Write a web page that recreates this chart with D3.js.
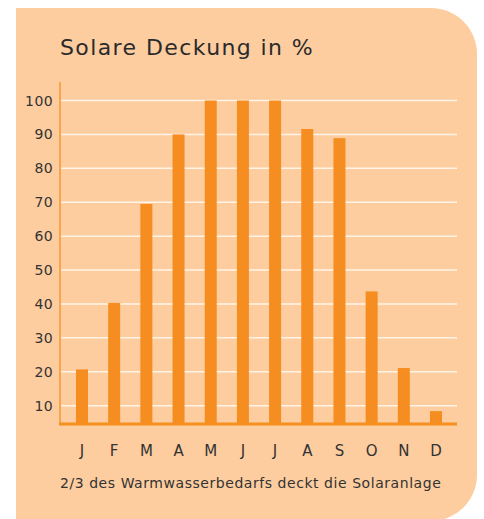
<!DOCTYPE html>
<html><head><meta charset="utf-8">
<script src="https://cdn.jsdelivr.net/npm/d3@7"></script>
<style>html,body{margin:0;padding:0;background:#fff;}svg{display:block;}</style>
</head><body>
<script>
const months = ["J","F","M","A","M","J","J","A","S","O","N","D"];
const values = [20.7, 40.3, 69.5, 90, 100, 100, 100, 91.6, 88.9, 43.7, 21.1, 8.4];
const yTicks = [10,20,30,40,50,60,70,80,90,100];
const title = "Solare Deckung in %";
const footnote = "2/3 des Warmwasserbedarfs deckt die Solaranlage";

const W = 484, H = 519;
const svg = d3.select("body").append("svg").attr("width", W).attr("height", H);
const font = "'DejaVu Sans', sans-serif";
const textColor = "#333333";

// panel
const px0 = 16, py0 = 8, px1 = 477, py1 = 521, r = 46;
svg.append("path")
  .attr("d", `M${px0},${py0} H${px1-r} A${r},${r} 0 0 1 ${px1},${py0+r} V${py1-r} A${r},${r} 0 0 1 ${px1-r},${py1} H${px0} Z`)
  .attr("fill", "#FDCD9F");

const idx = d3.range(months.length);
const x = d3.scalePoint().domain(idx).range([82, 436]);
const y = d3.scaleLinear().domain([4.6, 100]).range([424, 100.5]);
const barW = 12;

// gridlines
svg.append("g").selectAll("line").data(yTicks).join("line")
  .attr("x1", 61).attr("x2", 457)
  .attr("y1", d => y(d)).attr("y2", d => y(d))
  .attr("stroke", "#FFF4E8").attr("stroke-width", 1.5);

// y labels
svg.append("g").selectAll("text").data(yTicks).join("text")
  .attr("x", 53).attr("y", d => y(d)).attr("dy", "0.36em")
  .attr("text-anchor", "end")
  .attr("font-family", font).attr("font-size", 14).attr("letter-spacing", 0.4)
  .attr("fill", textColor).text(d => d);

// bars
svg.append("g").selectAll("rect").data(values).join("rect")
  .attr("x", (d, i) => x(i) - barW / 2)
  .attr("width", barW)
  .attr("y", d => y(d))
  .attr("height", d => y(4.6) - y(d))
  .attr("fill", "#F68D20");

// axis lines
svg.append("line").attr("x1", 60).attr("x2", 60).attr("y1", 82).attr("y2", 424)
  .attr("stroke", "#F9A54E").attr("stroke-width", 2);
svg.append("line").attr("x1", 59).attr("x2", 457).attr("y1", 424).attr("y2", 424)
  .attr("stroke", "#F6901F").attr("stroke-width", 3);

// month labels
svg.append("g").selectAll("text").data(months).join("text")
  .attr("x", (d, i) => x(i)).attr("y", 456)
  .attr("text-anchor", "middle")
  .attr("font-family", font).attr("font-size", 15)
  .attr("fill", textColor).text(d => d);

// title
svg.append("text").attr("x", 60).attr("y", 55)
  .attr("font-family", font).attr("font-size", 22).attr("letter-spacing", 1.4)
  .attr("fill", "#2a2a2a").text(title);

// footnote
svg.append("text").attr("x", 60).attr("y", 488)
  .attr("font-family", font).attr("font-size", 14).attr("letter-spacing", 0.55)
  .attr("fill", textColor).text(footnote);
</script>
</body></html>
